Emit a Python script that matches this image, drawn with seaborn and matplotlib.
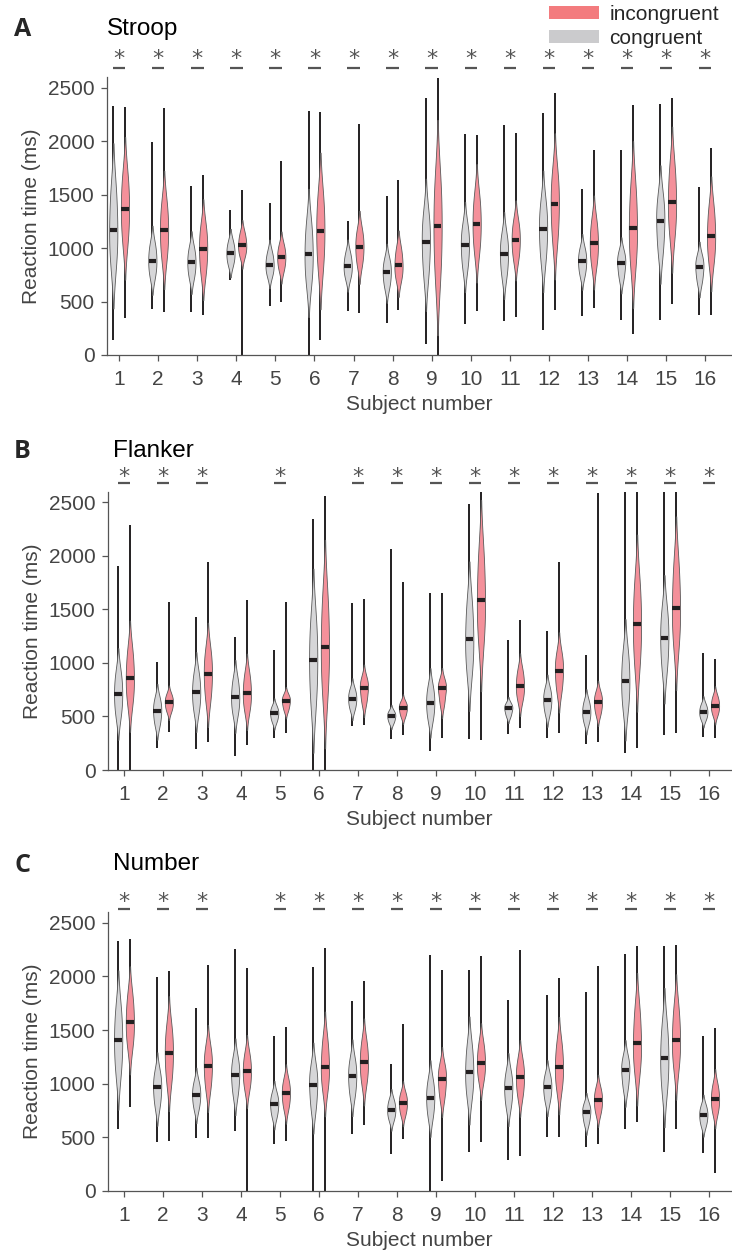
import numpy as np
import pandas as pd
import matplotlib
matplotlib.use("Agg")
import matplotlib.pyplot as plt
from matplotlib.patches import Patch
import seaborn as sns

# subjects
subjects = [str(i) for i in range(1, 17)]

# Stroop (ms)
stroop_con_min = [144, 434, 399, 705, 455, 0, 409, 300, 100, 290, 315, 237, 362, 331, 324, 374]
stroop_con_max = [2328, 1994, 1579, 1360, 1423, 2281, 1251, 1491, 2402, 2069, 2150, 2259, 1554, 1913, 2349, 1569]
stroop_con_med = [1173, 883, 867, 952, 845, 942, 830, 774, 1061, 1026, 945, 1176, 877, 864, 1251, 821]
stroop_con_q1 = [912, 762, 752, 866, 764, 725, 743, 659, 794, 848, 774, 938, 771, 738, 1008, 700]
stroop_con_q3 = [1504, 1010, 977, 1040, 939, 1185, 930, 871, 1268, 1172, 1086, 1374, 971, 938, 1432, 899]
stroop_inc_min = [346, 399, 378, 0, 493, 137, 393, 424, 0, 409, 353, 418, 437, 193, 480, 378]
stroop_inc_max = [2321, 2309, 1688, 1541, 1819, 2271, 2162, 1638, 2593, 2053, 2075, 2455, 1913, 2340, 2402, 1938]
stroop_inc_med = [1370, 1167, 995, 1026, 914, 1161, 1011, 839, 1204, 1229, 1076, 1410, 1045, 1189, 1432, 1117]
stroop_inc_q1 = [1116, 957, 804, 948, 818, 879, 876, 735, 805, 1019, 928, 1128, 884, 921, 1191, 927]
stroop_inc_q3 = [1628, 1382, 1166, 1122, 1005, 1441, 1138, 973, 1578, 1444, 1215, 1652, 1221, 1519, 1715, 1339]
stroop_sig = [1, 1, 1, 1, 1, 1, 1, 1, 1, 1, 1, 1, 1, 1, 1, 1]

# Flanker (ms)
flanker_con_min = [0, 202, 193, 134, 296, 0, 411, 286, 181, 286, 336, 296, 240, 156, 324, 311]
flanker_con_max = [1908, 1009, 1432, 1245, 1118, 2344, 1557, 2061, 1650, 2481, 1214, 1298, 1071, 2600, 2600, 1090]
flanker_con_med = [710, 554, 725, 679, 529, 1027, 666, 504, 629, 1223, 576, 654, 542, 834, 1236, 542]
flanker_con_q1 = [546, 444, 585, 557, 467, 691, 586, 452, 502, 983, 514, 554, 462, 625, 991, 487]
flanker_con_q3 = [874, 644, 871, 818, 579, 1351, 736, 539, 751, 1518, 607, 741, 624, 1060, 1451, 599]
flanker_inc_min = [0, 358, 258, 237, 342, 0, 417, 327, 296, 280, 395, 342, 265, 209, 342, 296]
flanker_inc_max = [2285, 1566, 1939, 1585, 1566, 2559, 1600, 1753, 1650, 2600, 1401, 1946, 2590, 2600, 2600, 1034]
flanker_inc_med = [859, 632, 900, 719, 644, 1152, 766, 579, 763, 1585, 788, 928, 632, 1364, 1516, 601]
flanker_inc_q1 = [677, 566, 702, 593, 573, 803, 646, 515, 632, 1287, 684, 768, 541, 1055, 1246, 535]
flanker_inc_q3 = [1075, 690, 1076, 867, 685, 1550, 833, 621, 807, 1972, 909, 1055, 703, 1690, 1868, 672]
flanker_sig = [1, 1, 1, 0, 1, 0, 1, 1, 1, 1, 1, 1, 1, 1, 1, 1]

# Number (ms)
number_con_min = [579, 454, 492, 563, 439, 0, 529, 346, 0, 364, 290, 507, 408, 579, 367, 352]
number_con_max = [2328, 1995, 1703, 2251, 1441, 2092, 1774, 1183, 2201, 2055, 1784, 1830, 1855, 2207, 2285, 1441]
number_con_med = [1404, 965, 897, 1083, 809, 990, 1068, 756, 869, 1108, 956, 968, 735, 1124, 1236, 707]
number_con_q1 = [1158, 819, 791, 927, 713, 797, 918, 682, 724, 930, 814, 858, 644, 977, 994, 627]
number_con_q3 = [1656, 1081, 990, 1201, 887, 1121, 1192, 831, 998, 1316, 1075, 1058, 793, 1214, 1492, 777]
number_inc_min = [781, 470, 492, 0, 470, 0, 613, 486, 97, 454, 330, 501, 436, 644, 579, 165]
number_inc_max = [2344, 2048, 2104, 2076, 1525, 2269, 1961, 1553, 2064, 2188, 2244, 1989, 2101, 2282, 2297, 1516]
number_inc_med = [1575, 1286, 1161, 1114, 909, 1158, 1199, 819, 1043, 1195, 1058, 1152, 844, 1376, 1410, 856]
number_inc_q1 = [1397, 1074, 987, 984, 798, 997, 1047, 732, 891, 1069, 912, 994, 747, 1178, 1211, 754]
number_inc_q3 = [1783, 1485, 1298, 1245, 1010, 1371, 1358, 893, 1140, 1343, 1186, 1342, 934, 1651, 1659, 966]
number_sig = [1, 1, 1, 0, 1, 1, 1, 1, 1, 1, 1, 1, 1, 1, 1, 1]

GRAY = "#d6d6d8"
RED = "#f4909a"
DARK = "#231f20"
AXC = "#555555"

sns.set_style("ticks")
plt.rcParams["font.family"] = ["Liberation Sans", "DejaVu Sans"]


def long_df(con_q1, con_med, con_q3, inc_q1, inc_med, inc_q3):
    rows = []
    for i, s in enumerate(subjects):
        for v in (con_q1[i], con_med[i], con_q3[i]):
            rows.append((s, "congruent", v))
        for v in (inc_q1[i], inc_med[i], inc_q3[i]):
            rows.append((s, "incongruent", v))
    return pd.DataFrame(rows, columns=["subject", "cond", "rt"])


def draw_panel(ax, df, con_min, con_max, con_med, inc_min, inc_max, inc_med,
               sig, xlim, star_y, bar_y):
    pos = np.arange(len(subjects))
    ax.vlines(pos - 0.15, con_min, con_max, color=DARK, lw=1.4, zorder=0.5)
    ax.vlines(pos + 0.15, inc_min, inc_max, color=DARK, lw=1.4, zorder=0.5)
    sns.violinplot(data=df, x="subject", y="rt", hue="cond", order=subjects,
                   hue_order=["congruent", "incongruent"],
                   palette={"congruent": GRAY, "incongruent": RED},
                   dodge=True, width=0.6, gap=0.3, inner=None,
                   density_norm="width", cut=2, linewidth=0.6,
                   linecolor="#5a5a5a", saturation=1, legend=False, ax=ax)
    ax.hlines(con_med, pos - 0.245, pos - 0.055, color=DARK, lw=3, zorder=4)
    ax.hlines(inc_med, pos + 0.055, pos + 0.245, color=DARK, lw=3, zorder=4)
    for i, s in enumerate(sig):
        if s:
            ax.text(pos[i], star_y, "*", ha="center", va="center",
                    fontsize=16, color=AXC, family="DejaVu Sans", clip_on=False)
            ax.plot([pos[i] - 0.16, pos[i] + 0.16], [bar_y, bar_y],
                    color=AXC, lw=1.6, clip_on=False, solid_capstyle="butt")
    ax.set_xlim(*xlim)
    ax.set_ylim(0, 2600)
    ax.set_yticks([0, 500, 1000, 1500, 2000, 2500])
    ax.set_xlabel("Subject number", fontsize=15, color="#444444", labelpad=4)
    ax.set_ylabel("Reaction time (ms)", fontsize=15, color="#444444", labelpad=5)
    ax.tick_params(axis="both", labelsize=15, colors="#444444", length=4,
                   width=0.9, direction="out", color=AXC)
    ax.tick_params(axis="x", pad=7)
    ax.tick_params(axis="y", pad=5)
    sns.despine(ax=ax)
    for sp in ("left", "bottom"):
        ax.spines[sp].set_color(AXC)
        ax.spines[sp].set_linewidth(0.9)


W, H = 732, 1257
fig = plt.figure(figsize=(W / 100, H / 100), dpi=100)

axA = fig.add_axes([107 / W, 1 - 355 / H, 624 / W, 278 / H])
axB = fig.add_axes([108 / W, 1 - 770 / H, 623 / W, 278.3 / H])
axC = fig.add_axes([108 / W, 1 - 1191 / H, 623 / W, 279 / H])

draw_panel(axA, long_df(stroop_con_q1, stroop_con_med, stroop_con_q3,
                        stroop_inc_q1, stroop_inc_med, stroop_inc_q3),
           stroop_con_min, stroop_con_max, stroop_con_med,
           stroop_inc_min, stroop_inc_max, stroop_inc_med,
           stroop_sig, (-0.31, 15.66), 2765, 2684)
draw_panel(axB, long_df(flanker_con_q1, flanker_con_med, flanker_con_q3,
                        flanker_inc_q1, flanker_inc_med, flanker_inc_q3),
           flanker_con_min, flanker_con_max, flanker_con_med,
           flanker_inc_min, flanker_inc_max, flanker_inc_med,
           flanker_sig, (-0.41, 15.56), 2740, 2677)
draw_panel(axC, long_df(number_con_q1, number_con_med, number_con_q3,
                        number_inc_q1, number_inc_med, number_inc_q3),
           number_con_min, number_con_max, number_con_med,
           number_inc_min, number_inc_max, number_inc_med,
           number_sig, (-0.41, 15.56), 2695, 2624)

# panel letters and titles
for letter, title, ly, tx in [("A", "Stroop", 30, 107), ("B", "Flanker", 452, 113),
                              ("C", "Number", 865, 113)]:
    fig.text(14 / W, 1 - ly / H, letter, fontsize=18, fontweight="bold",
             family="Open Sans", va="center", ha="left")
    fig.text(tx / W, 1 - (ly - 1) / H, title, fontsize=17.5, va="center",
             ha="left", color="black")

handles = [Patch(facecolor="#f37b7e", edgecolor="none"),
           Patch(facecolor="#cbcbcd", edgecolor="none")]
fig.legend(handles, ["incongruent", "congruent"], loc="upper right",
           bbox_to_anchor=(719 / W, 1 - 5 / H), frameon=False, fontsize=15,
           handlelength=2.4, handleheight=0.55, handletextpad=0.5,
           labelspacing=0.24, borderaxespad=0, borderpad=0)

fig.savefig("out.png", dpi=100)
